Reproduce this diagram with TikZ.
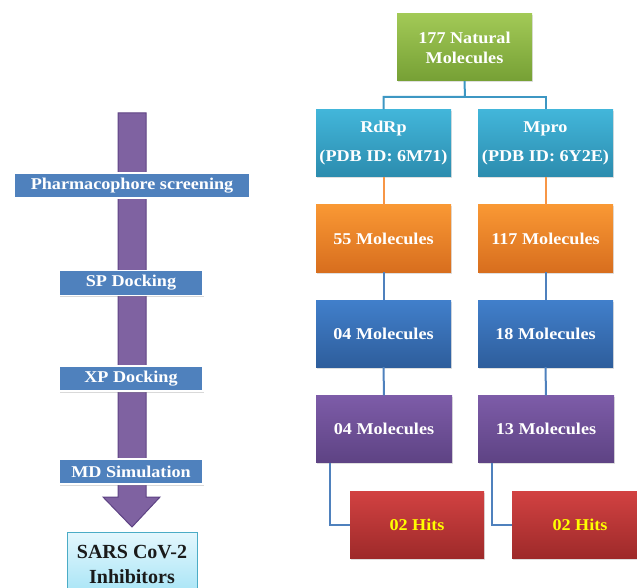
\documentclass[tikz,border=0pt]{standalone}
\usepackage{fontspec}
\setmainfont{Liberation Serif}[FakeStretch=1.1]
\newfontfamily\sarsfont{Liberation Serif}
\usetikzlibrary{shadows}
\definecolor{gtop}{HTML}{A2C956}\definecolor{gbot}{HTML}{76A035}
\definecolor{ctop}{HTML}{42B6DA}\definecolor{cbot}{HTML}{2C8CAE}
\definecolor{otop}{HTML}{F99834}\definecolor{obot}{HTML}{D86E1E}
\definecolor{btop}{HTML}{417FCB}\definecolor{bbot}{HTML}{2E5E9C}
\definecolor{ptop}{HTML}{7D5CA8}\definecolor{pbot}{HTML}{5E4384}
\definecolor{rtop}{HTML}{D24242}\definecolor{rbot}{HTML}{9E2A2A}
\definecolor{flatblue}{HTML}{4F81BD}
\definecolor{arrowfill}{HTML}{7F62A1}\definecolor{arrowline}{HTML}{5E4384}
\definecolor{tealline}{HTML}{3D97C3}\definecolor{orangeline}{HTML}{F79646}
\definecolor{blueline}{HTML}{4F81BD}
\definecolor{stop}{HTML}{E4F7FD}\definecolor{sbot}{HTML}{A6E4F6}\definecolor{sline}{HTML}{4BACC6}
\definecolor{hityellow}{HTML}{FFFF00}
\definecolor{sarstext}{HTML}{1A1A1A}
\tikzset{
  box/.style={rectangle, minimum width=135pt, minimum height=67pt, inner sep=0pt,
    text=white, align=center, font=\fontsize{16.5}{19}\selectfont\bfseries,
    drop shadow={opacity=0.25, shadow xshift=1pt, shadow yshift=-1.5pt}},
  gbox/.style={box, top color=gtop, bottom color=gbot},
  cbox/.style={box, top color=ctop, bottom color=cbot},
  obox/.style={box, top color=otop, bottom color=obot},
  bbox/.style={box, top color=btop, bottom color=bbot},
  pbox/.style={box, top color=ptop, bottom color=pbot},
  rbox/.style={box, top color=rtop, bottom color=rbot, text=hityellow},
  stepbox/.style={rectangle, fill=flatblue, draw=white, line width=1.5pt, inner sep=0pt,
    minimum height=25pt, text=white, font=\fontsize{16.5}{18}\selectfont\bfseries,
    drop shadow={opacity=0.3, shadow xshift=1pt, shadow yshift=-1.5pt}},
  tline/.style={draw=tealline, line width=2pt},
  oline/.style={draw=orangeline, line width=2pt},
  bline/.style={draw=blueline, line width=2pt},
}
\begin{document}
\begin{tikzpicture}[x=1pt,y=-1pt]
\useasboundingbox (0,0) rectangle (637,588);
\clip (0,0) rectangle (637,588);
% left arrow
\filldraw[fill=arrowfill, draw=arrowline, line width=1pt]
  (118,113) -- (146,113) -- (146,497) -- (160,497) -- (132,527) -- (103,497) -- (118,497) -- cycle;
\node[stepbox, minimum width=236pt] (ph) at (132,185.5) {Pharmacophore screening};
\node[stepbox, minimum width=144pt] (sp) at (131,283) {SP Docking};
\node[stepbox, minimum width=144pt] (xp) at (131,378.5) {XP Docking};
\node[stepbox, minimum width=144pt] (md) at (131,471.5) {MD Simulation};
\node[rectangle, top color=stop, bottom color=sbot, draw=sline, line width=1pt,
  minimum width=130pt, minimum height=64pt, inner sep=0pt, align=center, text=sarstext,
  font=\sarsfont\fontsize{20}{25}\selectfont\bfseries] (sars) at (132,564) {SARS CoV-2\\Inhibitors};
% right tree
\node[gbox, font=\fontsize{16.5}{20}\selectfont\bfseries] (g) at (464.5,47.5) {177 Natural\\Molecules};
\node[cbox, font=\fontsize{16.5}{29}\selectfont\bfseries] (r1) at (383.5,143) {RdRp\\(PDB ID: 6M71)};
\node[cbox, font=\fontsize{16.5}{29}\selectfont\bfseries] (m1) at (545.5,143) {Mpro\\(PDB ID: 6Y2E)};
\node[obox] (r2) at (383.5,238.5) {55 Molecules};
\node[obox] (m2) at (545.5,238.5) {117 Molecules};
\node[bbox] (r3) at (383.5,333.5) {04 Molecules};
\node[bbox] (m3) at (545.5,333.5) {18 Molecules};
\node[pbox, minimum width=136pt] (r4) at (384,429) {04 Molecules};
\node[pbox, minimum width=136pt] (m4) at (546,429) {13 Molecules};
\node[rbox, minimum width=134pt] (r5) at (417,524.5) {02 Hits};
\node[rbox, minimum width=136pt] (m5) at (580,524.5) {02 Hits};
% connectors
\coordinate (j) at (465,97);
\draw[tline] (g.south) -- (j) -| (r1.north);
\draw[tline] (j) -| (m1.north);
\draw[oline] (r1.south) -- (r2.north);
\draw[oline] (m1.south) -- (m2.north);
\draw[bline] (r2.south) -- (r3.north);
\draw[bline] (m2.south) -- (m3.north);
\draw[bline] (r3.south) -- (r4.north);
\draw[bline] (m3.south) -- (m4.north);
\draw[bline] ([xshift=14pt]r4.south west) |- (r5.west);
\draw[bline] ([xshift=14pt]m4.south west) |- (m5.west);
\end{tikzpicture}
\end{document}
